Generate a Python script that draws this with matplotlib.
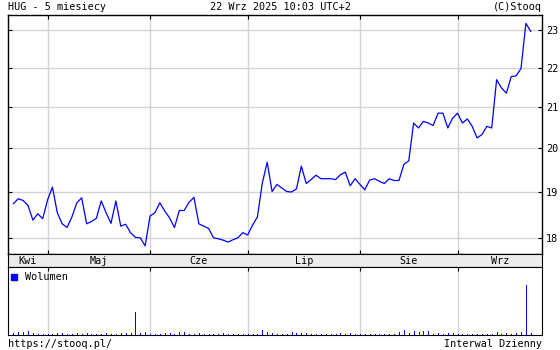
import matplotlib
matplotlib.use("Agg")
import matplotlib.pyplot as plt
import numpy as np
import pandas as pd
from matplotlib.ticker import FixedLocator, NullLocator, FixedFormatter

# trading days (GPW), 22 Apr - 22 Sep 2025
holidays = ["2025-05-01", "2025-06-19", "2025-08-15"]
days = pd.bdate_range("2025-04-22", "2025-09-22", freq="C", holidays=holidays)

# closing prices, PLN
close = [18.74, 18.85, 18.81, 18.70, 18.38, 18.52, 18.41, 18.82, 19.11, 18.54,
         18.30, 18.22, 18.45, 18.76, 18.87, 18.30, 18.35, 18.42, 18.80, 18.54,
         18.31, 18.80, 18.25, 18.29, 18.11, 18.01, 18.00, 17.83, 18.47, 18.54,
         18.76, 18.58, 18.43, 18.22, 18.59, 18.59, 18.77, 18.88, 18.30, 18.25,
         18.20, 18.00, 17.98, 17.95, 17.91, 17.96, 18.00, 18.11, 18.06, 18.27,
         18.45, 19.20, 19.68, 19.01, 19.17, 19.09, 19.01, 19.00, 19.07, 19.59,
         19.19, 19.28, 19.38, 19.30, 19.30, 19.30, 19.28, 19.39, 19.45, 19.14,
         19.30, 19.17, 19.05, 19.27, 19.30, 19.24, 19.19, 19.30, 19.26, 19.26,
         19.63, 19.71, 20.61, 20.49, 20.65, 20.61, 20.55, 20.85, 20.85, 20.49,
         20.73, 20.85, 20.61, 20.71, 20.53, 20.25, 20.33, 20.53, 20.49, 21.69,
         21.48, 21.35, 21.77, 21.79, 21.98, 23.18, 22.96]

# volume, shares
volume = [12, 20, 20, 24, 12, 6, 6, 6, 6, 14,
          14, 6, 6, 12, 6, 12, 6, 6, 6, 12,
          6, 6, 12, 12, 12, 138, 14, 18, 6, 6,
          6, 12, 12, 6, 18, 18, 6, 6, 12, 6,
          6, 6, 6, 12, 6, 6, 6, 6, 6, 6,
          6, 30, 20, 14, 6, 6, 6, 18, 12, 12,
          12, 6, 6, 6, 6, 6, 6, 12, 6, 12,
          6, 6, 6, 6, 6, 6, 6, 6, 6, 18,
          30, 12, 24, 18, 24, 24, 6, 12, 6, 12,
          12, 6, 6, 6, 6, 6, 6, 6, 6, 18,
          6, 12, 6, 12, 18, 300, 12]
volume = [v * 1000 for v in volume]

month_names = ["Kwi", "Maj", "Cze", "Lip", "Sie", "Wrz"]
price_ticks = [18, 19, 20, 21, 22, 23]

x = np.arange(len(days))
months = days.to_period("M")
starts = [i for i in range(1, len(days)) if months[i] != months[i - 1]]

W, H = 560, 350
blue = "#0000ff"
grid = "#d3d3d3"
mono = "DejaVu Sans Mono"
fs = 7.3
xlim = (-1.1, 108.3)

fig = plt.figure(figsize=(W / 100, H / 100), dpi=100)

def box(l, t, r, b):
    return [l / W, 1 - b / H, (r - l) / W, (b - t) / H]

# price panel
ax = fig.add_axes(box(8, 15, 542, 254))
ax.plot(x, close, color=blue, lw=0.9, zorder=3)
ax.set_yscale("log")
ax.set_xlim(*xlim)
ax.set_ylim(17.66, 23.41)
ax.yaxis.set_major_locator(FixedLocator(price_ticks))
ax.yaxis.set_major_formatter(FixedFormatter([str(t) for t in price_ticks]))
ax.yaxis.set_minor_locator(NullLocator())
ax.set_xticks(starts)
ax.set_xticklabels([])
ax.grid(True, color=grid, lw=1.0, zorder=0)
ax.tick_params(axis="y", direction="in", length=3, left=True, right=True,
               labelleft=False, labelright=True, labelsize=fs, pad=3)
ax.tick_params(axis="x", direction="in", length=3, top=True, bottom=True)
for lab in ax.get_yticklabels():
    lab.set_family(mono)
for s in ax.spines.values():
    s.set_linewidth(1.0)

# month band
band = fig.add_axes(box(8, 254, 542, 267))
band.set_facecolor("#ececec")
band.set_xlim(*xlim)
band.set_ylim(0, 1)
band.set_xticks([])
band.set_yticks([])
edges = [xlim[0]] + starts + [xlim[1]]
for name, a, b in zip(month_names, edges[:-1], edges[1:]):
    band.text((a + b) / 2, 0.45, name, ha="center", va="center",
              family=mono, fontsize=fs)

# volume panel
av = fig.add_axes(box(8, 267, 542, 335))
av.vlines(x, 0, volume, color=blue, lw=0.72, antialiased=False, zorder=3)
av.set_xlim(*xlim)
av.set_ylim(0, max(volume) * 68 / 50)
av.set_xticks(starts)
av.set_xticklabels([])
av.set_yticks([])
av.grid(True, axis="x", color=grid, lw=1.0, zorder=0)
av.tick_params(axis="x", direction="in", length=3, top=True, bottom=False)
av.plot([0.012], [0.855], "s", color=blue, ms=5, transform=av.transAxes)
av.text(0.031, 0.855, "Wolumen", transform=av.transAxes, va="center",
        family=mono, fontsize=fs)

# header and footer
fig.text(8 / W, 1 - 7 / H, "HUG - 5 miesiecy", va="center", family=mono, fontsize=fs)
fig.text(280 / W, 1 - 7 / H, "22 Wrz 2025 10:03 UTC+2", ha="center", va="center",
         family=mono, fontsize=fs)
fig.text(542 / W, 1 - 7 / H, "(C)Stooq", ha="right", va="center", family=mono, fontsize=fs)
fig.text(8 / W, 1 - 344 / H, "https://stooq.pl/", va="center", family=mono, fontsize=fs)
fig.text(542 / W, 1 - 344 / H, "Interwal Dzienny", ha="right", va="center",
         family=mono, fontsize=fs)

fig.savefig("out.png", dpi=100)
